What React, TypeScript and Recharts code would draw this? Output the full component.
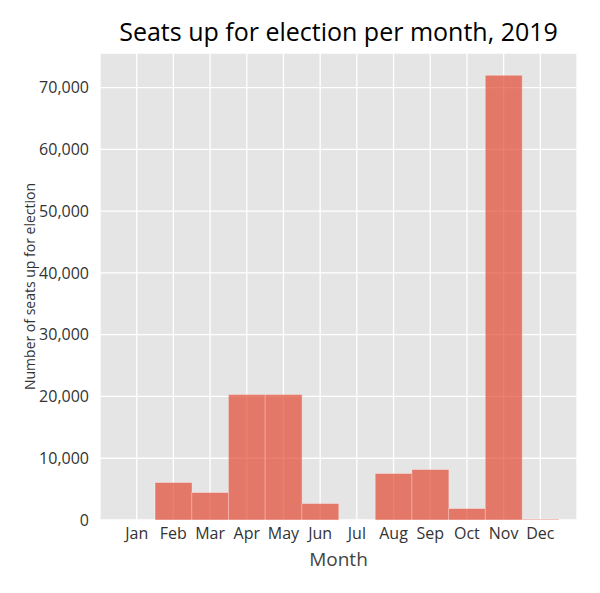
import { BarChart, Bar, XAxis, YAxis, CartesianGrid, Label } from 'recharts';

const months = ['Jan', 'Feb', 'Mar', 'Apr', 'May', 'Jun', 'Jul', 'Aug', 'Sep', 'Oct', 'Nov', 'Dec'];
const seats = [0, 6070, 4450, 20320, 20320, 2670, 0, 7530, 8180, 1860, 72000, 120];
const yTicks = [0, 10000, 20000, 30000, 40000, 50000, 60000, 70000];

const data = months.map((m, i) => ({ month: m, seats: seats[i] }));

const font = '"Open Sans", "Noto Sans", sans-serif';

export default function App() {
  return (
    <div style={{ position: 'absolute', left: 0, top: 0, width: 600, height: 593, background: '#fff' }}>
      <div
        style={{
          position: 'absolute',
          left: 100,
          width: 477,
          top: 14,
          textAlign: 'center',
          fontFamily: font,
          fontSize: 25,
          color: '#000',
        }}
      >
        Seats up for election per month, 2019
      </div>
      <BarChart
        width={600}
        height={593}
        data={data}
        margin={{ top: 53, right: 23, left: 30, bottom: 43 }}
        barCategoryGap={0}
        barGap={0}
      >
        <CartesianGrid fill="#E5E5E5" stroke="#ffffff" strokeWidth={1.3} />
        <XAxis
          dataKey="month"
          padding={{ left: 18.35, right: 18.35 }}
          axisLine={false}
          tickLine={false}
          tick={{ fill: '#333', fontSize: 16, fontFamily: font }}
          tickMargin={2}
          height={30}
          interval={0}
        >
          <Label value="Month" position="insideBottom" offset={-16} style={{ fill: '#444', fontSize: 19, fontFamily: font }} />
        </XAxis>
        <YAxis
          width={70}
          domain={[0, 75600]}
          ticks={yTicks}
          allowDataOverflow
          axisLine={false}
          tickLine={false}
          tickMargin={5}
          tickFormatter={(v: number) => v.toLocaleString('en-US')}
          tick={{ fill: '#333', fontSize: 16, fontFamily: font }}
        >
          <Label
            value="Number of seats up for election"
            angle={-90}
            position="insideLeft"
            offset={0}
            style={{ fill: '#333', fontSize: 14, fontFamily: font, textAnchor: 'middle' }}
          />
        </YAxis>
        <Bar
          dataKey="seats"
          fill="#E24A33"
          fillOpacity={0.7}
          stroke="#ffffff"
          strokeOpacity={0.35}
          strokeWidth={1}
          isAnimationActive={false}
        />
      </BarChart>
    </div>
  );
}
